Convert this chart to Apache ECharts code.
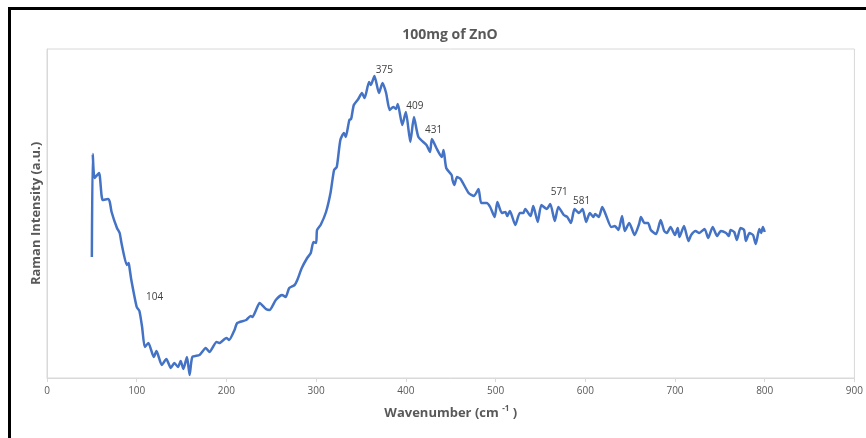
<!DOCTYPE html>
<html><head><meta charset="utf-8">
<script src="https://cdn.jsdelivr.net/npm/echarts@6/dist/echarts.min.js"></script>
<style>html,body{margin:0;padding:0;background:#fff}#c{width:866px;height:438px}</style>
</head><body><div id="c"></div>
<script>
const wavenumber = [50,51,53,58,62,68,70,72,78,81,83,89,91,92,94,100,103,106,109,113,119,122,128,133,138,142,146,149,152,156,159,162,170,177,181,189,192,200,203,209,212,222,227,229,233,237,244,248,255,262,266,270,276,279,284,290,294,297,300,301,305,311,316,320,323,327,331,333,337,339,342,347,351,354,359,361,365,370,374,378,382,386,389,391,396,400,405,409,414,423,427,429,434,440,442,445,451,452,454,457,461,470,476,481,484,490,494,499,502,507,511,513,516,522,527,531,533,539,542,547,551,557,561,566,570,576,580,584,588,593,597,601,605,609,611,615,619,623,629,633,637,641,644,649,655,660,662,666,670,673,679,684,688,691,695,700,703,705,710,715,718,723,727,733,737,742,747,751,757,760,762,766,769,773,777,779,783,787,790,794,796,798,800];
const intensity = [1210,2240,2000,2050,1780,1790,1760,1660,1500,1450,1350,1130,1150,1100,980,710,670,510,310,350,210,270,130,190,100,150,110,170,90,210,30,210,230,300,260,360,350,400,380,480,550,580,620,610,680,750,690,680,780,830,810,900,930,980,1100,1200,1250,1360,1350,1480,1530,1660,1850,2080,2110,2380,2450,2410,2580,2590,2730,2790,2850,2800,2960,2930,3020,2850,2950,2850,2680,2710,2690,2740,2530,2660,2360,2610,2410,2330,2260,2390,2300,2210,2280,2100,2030,1980,1930,2010,1990,1850,1820,1890,1750,1750,1710,1610,1760,1650,1660,1620,1670,1530,1650,1650,1690,1620,1720,1560,1730,1690,1740,1570,1710,1630,1610,1550,1690,1650,1690,1560,1650,1610,1640,1610,1710,1630,1510,1520,1480,1620,1470,1550,1430,1540,1610,1550,1550,1480,1440,1580,1470,1450,1510,1430,1500,1410,1520,1370,1430,1470,1450,1490,1400,1510,1420,1470,1450,1420,1480,1460,1380,1500,1480,1370,1450,1430,1340,1490,1450,1510,1460];
const xTicks = [0,100,200,300,400,500,600,700,800,900];
const peakText = ['104','375','409','431','571','581'];
const peakLabelX = [120,376,410,431,571,596];
const peakLabelY = [810,3080,2720,2480,1860,1770];

const FONT = "'Open Sans','Noto Sans',sans-serif";
const chart = echarts.init(document.getElementById('c'), null, {renderer:'canvas'});
chart.setOption({
  animation:false,
  backgroundColor:'#fff',
  title:{text:'100mg of ZnO', left:445, top:23, textAlign:'center',
    textStyle:{fontFamily:FONT, fontSize:14, fontWeight:'bold', color:'#595959'}},
  grid:{left:47, top:49, right:9, bottom:60, show:true, borderColor:'#d9d9d9', borderWidth:1, backgroundColor:'#fff'},
  xAxis:{type:'value', min:xTicks[0], max:xTicks[xTicks.length-1], interval:100,
    axisLine:{show:true, lineStyle:{color:'#d9d9d9'}},
    axisTick:{show:true, length:4, lineStyle:{color:'#d9d9d9'}},
    axisLabel:{color:'#595959', fontSize:10, fontFamily:FONT, margin:8},
    splitLine:{show:false},
    name:'Wavenumber (cm {sup|-1} )', nameLocation:'middle', nameGap:27,
    nameTextStyle:{fontFamily:FONT, fontSize:13, fontWeight:'bold', color:'#595959',
      rich:{sup:{fontSize:8, fontWeight:'bold', color:'#595959', fontFamily:FONT, verticalAlign:'top', padding:[0,0,8,0]}}}},
  yAxis:{type:'value', min:0, max:3290,
    axisLine:{show:true, lineStyle:{color:'#d9d9d9'}},
    axisTick:{show:false}, axisLabel:{show:false}, splitLine:{show:false},
    name:'Raman Intensity (a.u.)', nameLocation:'middle', nameGap:4, nameRotate:90,
    nameTextStyle:{fontFamily:FONT, fontSize:13, fontWeight:'bold', color:'#595959'}},
  graphic:[{type:'rect', shape:{x:9.5, y:8.5, width:900, height:500}, silent:true, z:100,
    style:{fill:null, stroke:'#000', lineWidth:3}}],
  series:[{type:'line', data:wavenumber.map((w,i)=>[w,intensity[i]]), showSymbol:false, symbol:'none',
    lineStyle:{color:'#4472C4', width:2.5}, smooth:0.2,
    markPoint:{symbol:'circle', symbolSize:0, silent:true,
      data:peakText.map((t,i)=>({name:t, coord:[peakLabelX[i], peakLabelY[i]]})),
      label:{show:true, position:'inside', formatter:p=>p.name, color:'#404040', fontSize:10, fontFamily:FONT}}}]
});
</script></body></html>
